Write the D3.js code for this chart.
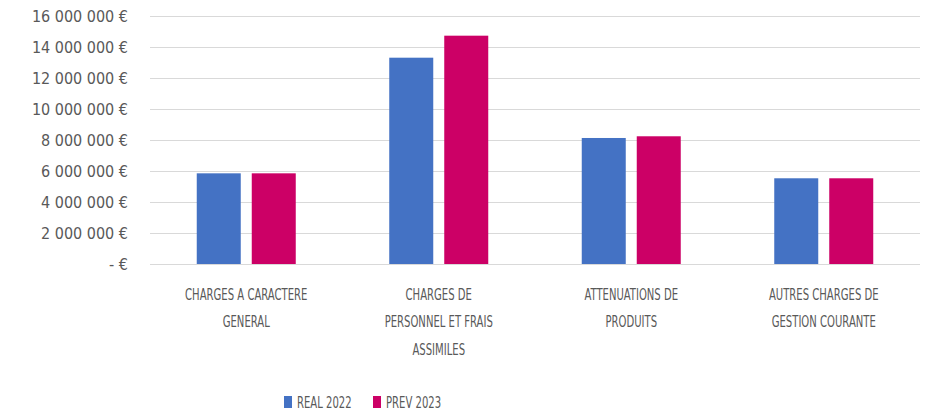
<!DOCTYPE html>
<html>
<head>
<meta charset="utf-8">
<script src="https://cdn.jsdelivr.net/npm/d3@7"></script>
<style>
  body { margin: 0; background: #fff; }
  svg text { font-family: "DejaVu Sans Condensed", "DejaVu Sans", sans-serif; fill: #595959; }
</style>
</head>
<body>
<div id="chart"></div>
<script>
// categories, with the line breaks used on the axis
const categories = [
  'CHARGES A CARACTERE GENERAL',
  'CHARGES DE PERSONNEL ET FRAIS ASSIMILES',
  'ATTENUATIONS DE PRODUITS',
  'AUTRES CHARGES DE GESTION COURANTE'
];
const categoryLines = [
  ['CHARGES A CARACTERE', 'GENERAL'],
  ['CHARGES DE', 'PERSONNEL ET FRAIS', 'ASSIMILES'],
  ['ATTENUATIONS DE', 'PRODUITS'],
  ['AUTRES CHARGES DE', 'GESTION COURANTE']
];
const seriesNames = ['REAL 2022', 'PREV 2023'];
const real2022 = [5850000, 13310000, 8130000, 5530000];
const prev2023 = [5850000, 14730000, 8240000, 5530000];
const yTicks = [0, 2000000, 4000000, 6000000, 8000000, 10000000, 12000000, 14000000, 16000000];
const colors = ['#4472C4', '#CC0066'];

const width = 935, height = 410;
const margin = {top: 16, right: 15, bottom: 146, left: 150};
const innerW = width - margin.left - margin.right;
const innerH = height - margin.top - margin.bottom;
const squeeze = 0.7; // the labels are drawn in a narrow face

const svg = d3.select('#chart').append('svg')
  .attr('width', width)
  .attr('height', height);

const chart = svg.append('g')
  .attr('transform', `translate(${margin.left},${margin.top})`);

const x = d3.scaleBand().domain(categories).range([0, innerW]);
const y = d3.scaleLinear().domain([0, 16000000]).range([innerH, 0]);

// bar geometry inside a category
const barW = 44, barGap = 11;
const x1 = d3.scaleOrdinal().domain([0, 1])
  .range([-(barW + barGap / 2), barGap / 2]);

// gridlines
chart.selectAll('.grid')
  .data(yTicks)
  .join('line')
  .attr('class', 'grid')
  .attr('x1', 0)
  .attr('x2', innerW)
  .attr('y1', d => Math.round(y(d)) + 0.5)
  .attr('y2', d => Math.round(y(d)) + 0.5)
  .attr('stroke', '#d9d9d9')
  .attr('stroke-width', 1);

// y labels
const fmt = d => d === 0 ? '-  €' : d3.format(',')(d).replace(/,/g, ' ') + ' €';
chart.selectAll('.ylabel')
  .data(yTicks)
  .join('text')
  .attr('class', 'ylabel')
  .attr('x', -22)
  .attr('y', d => y(d))
  .attr('dy', '0.35em')
  .attr('text-anchor', 'end')
  .style('font-size', '16px')
  .text(fmt);

// bars
const series = [real2022, prev2023];
series.forEach((vals, si) => {
  chart.selectAll('.bar-' + si)
    .data(vals)
    .join('rect')
    .attr('class', 'bar-' + si)
    .attr('x', (d, i) => x(categories[i]) + x.bandwidth() / 2 + x1(si))
    .attr('y', d => y(d))
    .attr('width', barW)
    .attr('height', d => y(0) - y(d))
    .attr('fill', colors[si]);
});

// category labels
const catG = chart.selectAll('.cat')
  .data(categories)
  .join('text')
  .attr('class', 'cat')
  .attr('text-anchor', 'middle')
  .style('font-size', '16px')
  .attr('transform', d => `translate(${x(d) + x.bandwidth() / 2},${innerH + 36}) scale(${squeeze},1)`);

catG.selectAll('tspan')
  .data((d, i) => categoryLines[i])
  .join('tspan')
  .attr('x', 0)
  .attr('y', (d, i) => i * 27.5)
  .text(d => d);

// legend
const legend = svg.append('g')
  .attr('transform', 'translate(284,402)');

const legendItem = legend.selectAll('.legend-item')
  .data(seriesNames)
  .join('g')
  .attr('class', 'legend-item')
  .attr('transform', (d, i) => `translate(${i * 89},0)`);

legendItem.append('rect')
  .attr('x', 0)
  .attr('y', -6)
  .attr('width', 8)
  .attr('height', 12)
  .attr('fill', (d, i) => colors[i]);

legendItem.append('text')
  .attr('transform', `translate(13,0) scale(${squeeze},1)`)
  .attr('dy', '0.35em')
  .style('font-size', '16px')
  .text(d => d);
</script>
</body>
</html>
